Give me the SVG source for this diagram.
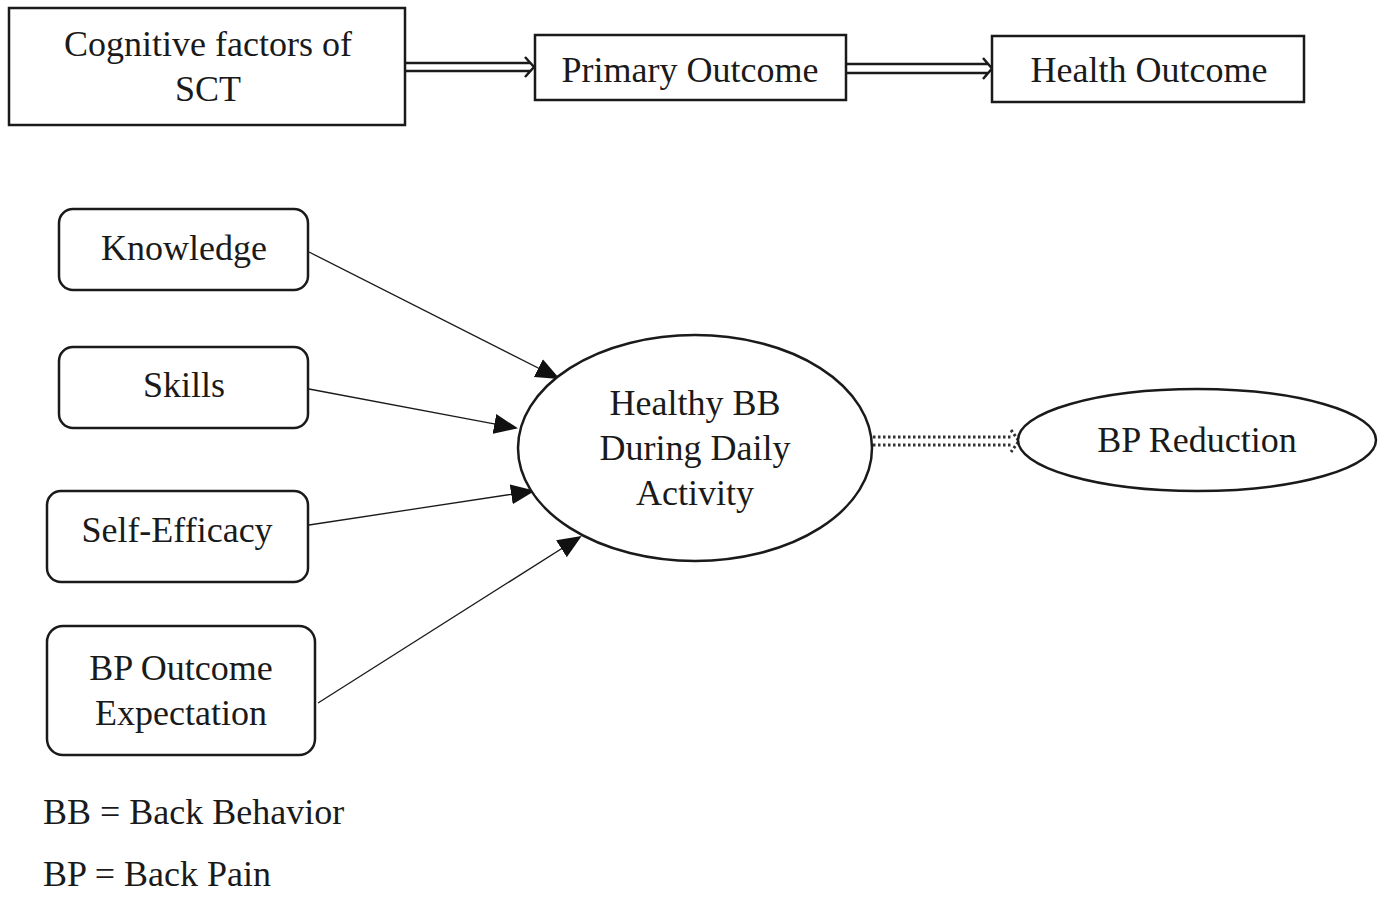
<svg xmlns="http://www.w3.org/2000/svg" width="1380" height="898" viewBox="0 0 1380 898">
<style>
.t{font-family:"Liberation Serif","Times New Roman",serif;font-size:36px;fill:#1a1a1a;text-anchor:middle}
.l{font-family:"Liberation Serif","Times New Roman",serif;font-size:36px;fill:#1a1a1a}
.box{fill:#fff;stroke:#1a1a1a;stroke-width:2.5}
.c{stroke:#1a1a1a;stroke-width:1.3;fill:none}
.d{stroke:#1a1a1a;stroke-width:2.5;fill:none}
.dot{stroke:#333;stroke-width:3;stroke-dasharray:2.5 2.5;fill:none}
</style>
<defs>
<marker id="ah2" markerWidth="24" markerHeight="20" refX="22" refY="10" orient="auto" markerUnits="userSpaceOnUse" viewBox="0 0 24 20">
<path d="M0,0 L24,10 L0,20 Z" fill="#111"/>
</marker>
</defs>
<rect width="1380" height="898" fill="#fff"/>
<g id="connectors">
<path class="d" d="M405,63 H530 M405,71 H530 M525,57 L534,67 L525,77"/>
<path class="d" d="M846,64 H988 M846,73 H988 M983,58 L992,68.5 L983,79"/>
<path class="dot" d="M873,437 H1012 M873,445 H1012 M1011,430 L1019,441 L1011,452"/>
<line class="c" x1="309" y1="252" x2="558" y2="378" marker-end="url(#ah2)"/>
<line class="c" x1="309" y1="389" x2="516" y2="428" marker-end="url(#ah2)"/>
<line class="c" x1="309" y1="525" x2="533" y2="491" marker-end="url(#ah2)"/>
<line class="c" x1="318" y1="703" x2="580" y2="537" marker-end="url(#ah2)"/>
</g>
<g id="cognitive"><rect class="box" x="9" y="8" width="396" height="117"/>
<text class="t" x="208" y="56">Cognitive factors of</text><text class="t" x="208" y="101">SCT</text></g>
<g id="primary"><rect class="box" x="535" y="35" width="311" height="65"/>
<text class="t" x="690" y="82">Primary Outcome</text></g>
<g id="health"><rect class="box" x="992" y="36" width="312" height="66"/>
<text class="t" x="1149" y="82">Health Outcome</text></g>
<g id="knowledge"><rect class="box" x="59" y="209" width="249" height="81" rx="14"/>
<text class="t" x="184" y="260">Knowledge</text></g>
<g id="skills"><rect class="box" x="59" y="347" width="249" height="81" rx="14"/>
<text class="t" x="184" y="397">Skills</text></g>
<g id="selfefficacy"><rect class="box" x="47" y="491" width="261" height="91" rx="14"/>
<text class="t" x="177" y="542">Self-Efficacy</text></g>
<g id="outcomeexp"><rect class="box" x="47" y="626" width="268" height="129" rx="16"/>
<text class="t" x="181" y="680">BP Outcome</text><text class="t" x="181" y="725">Expectation</text></g>
<g id="healthybb"><ellipse class="box" cx="695" cy="448" rx="177" ry="113"/>
<text class="t" x="695" y="415">Healthy BB</text><text class="t" x="695" y="460">During Daily</text><text class="t" x="695" y="505">Activity</text></g>
<g id="bpreduction"><ellipse class="box" cx="1197" cy="440" rx="179" ry="51"/>
<text class="t" x="1197" y="452">BP Reduction</text></g>
<g id="legend"><text class="l" x="43" y="824">BB = Back Behavior</text><text class="l" x="43" y="886">BP = Back Pain</text></g>
</svg>
